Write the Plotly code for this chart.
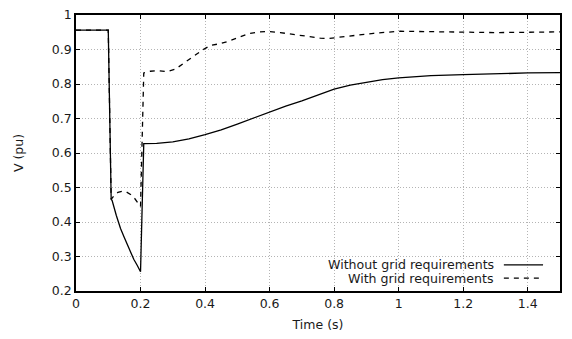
import plotly.graph_objects as go

# Voltage at the point of connection during a fault, two control strategies
time_without = [0, 0.1, 0.109, 0.112, 0.125, 0.138, 0.15, 0.159, 0.17, 0.179, 0.19, 0.2,
                0.21, 0.25, 0.3, 0.35, 0.4, 0.45, 0.5, 0.55, 0.6, 0.65, 0.7, 0.75, 0.8,
                0.85, 0.9, 0.95, 1.0, 1.1, 1.2, 1.3, 1.4, 1.5]
v_without = [0.956, 0.956, 0.466, 0.462, 0.419, 0.381, 0.354, 0.334, 0.312, 0.292, 0.274, 0.256,
             0.627, 0.628, 0.632, 0.641, 0.653, 0.667, 0.684, 0.702, 0.72, 0.736, 0.751, 0.768, 0.785,
             0.797, 0.806, 0.813, 0.818, 0.824, 0.827, 0.830, 0.832, 0.833]

time_with = [0, 0.1, 0.109, 0.117, 0.13, 0.143, 0.156, 0.169, 0.182, 0.195, 0.2,
             0.21, 0.23, 0.252, 0.283, 0.308, 0.334, 0.365, 0.391, 0.417, 0.448, 0.479,
             0.507, 0.535, 0.568, 0.6, 0.633, 0.664, 0.695, 0.726, 0.757, 0.783, 0.85,
             0.922, 1.005, 1.077, 1.15, 1.22, 1.3, 1.4, 1.5]
v_with = [0.956, 0.956, 0.466, 0.475, 0.486, 0.489, 0.487, 0.48, 0.468, 0.452, 0.445,
          0.832, 0.837, 0.839, 0.836, 0.843, 0.860, 0.881, 0.898, 0.912, 0.917, 0.926,
          0.937, 0.946, 0.951, 0.952, 0.949, 0.945, 0.940, 0.935, 0.933, 0.932, 0.940,
          0.947, 0.953, 0.952, 0.950, 0.948, 0.949, 0.950, 0.951]

series_names = ["Without grid requirements", "With grid requirements"]
x_ticks = [0, 0.2, 0.4, 0.6, 0.8, 1, 1.2, 1.4]
y_ticks = [0.2, 0.3, 0.4, 0.5, 0.6, 0.7, 0.8, 0.9, 1]

FONT = "DejaVu Sans"
DASH = "5px,5px"
INK = "#1a1a1a"

fig = go.Figure()
fig.add_trace(go.Scatter(x=time_without, y=v_without, mode="lines",
                         line=dict(color="black", width=1.3), name=series_names[0],
                         showlegend=False))
fig.add_trace(go.Scatter(x=time_with, y=v_with, mode="lines",
                         line=dict(color="black", width=1.3, dash=DASH), name=series_names[1],
                         showlegend=False))

# gnuplot-style key: right-aligned text followed by a line sample
key_rows = [(0.095, None), (0.047, DASH)]
for (ypos, dash), name in zip(key_rows, series_names):
    fig.add_annotation(x=0.868, y=ypos, xref="paper", yref="paper", text=name,
                       showarrow=False, xanchor="right", yanchor="middle",
                       font=dict(family=FONT, size=12.6, color=INK))
    fig.add_shape(type="line", xref="paper", yref="paper", x0=0.884, x1=0.965,
                  y0=ypos, y1=ypos, line=dict(color="black", width=1.3, dash=dash))

axis_common = dict(
    showline=True, linecolor="black", linewidth=1.5, mirror="allticks",
    ticks="inside", ticklen=4, tickcolor="black", tickwidth=1,
    showgrid=True, gridcolor="#b4b4b4", gridwidth=1, griddash="1px,2px",
    zeroline=False, tickfont=dict(family=FONT, size=12.5, color=INK),
)

fig.update_xaxes(range=[0, 1.5], tickvals=x_ticks,
                 ticktext=[f"{v:g}" for v in x_ticks],
                 title=dict(text="Time (s)", font=dict(family=FONT, size=12.5, color=INK),
                            standoff=10),
                 **axis_common)
fig.update_yaxes(range=[0.2, 1], tickvals=y_ticks,
                 ticktext=[f"{v:g}" for v in y_ticks],
                 title=dict(text="V (pu)", font=dict(family=FONT, size=12.5, color=INK),
                            standoff=25),
                 **axis_common)

fig.update_layout(
    width=572, height=339,
    margin=dict(l=76, r=12, t=7, b=48),
    paper_bgcolor="white", plot_bgcolor="white",
    font=dict(family=FONT, color=INK),
)

fig.write_html("out.html")
